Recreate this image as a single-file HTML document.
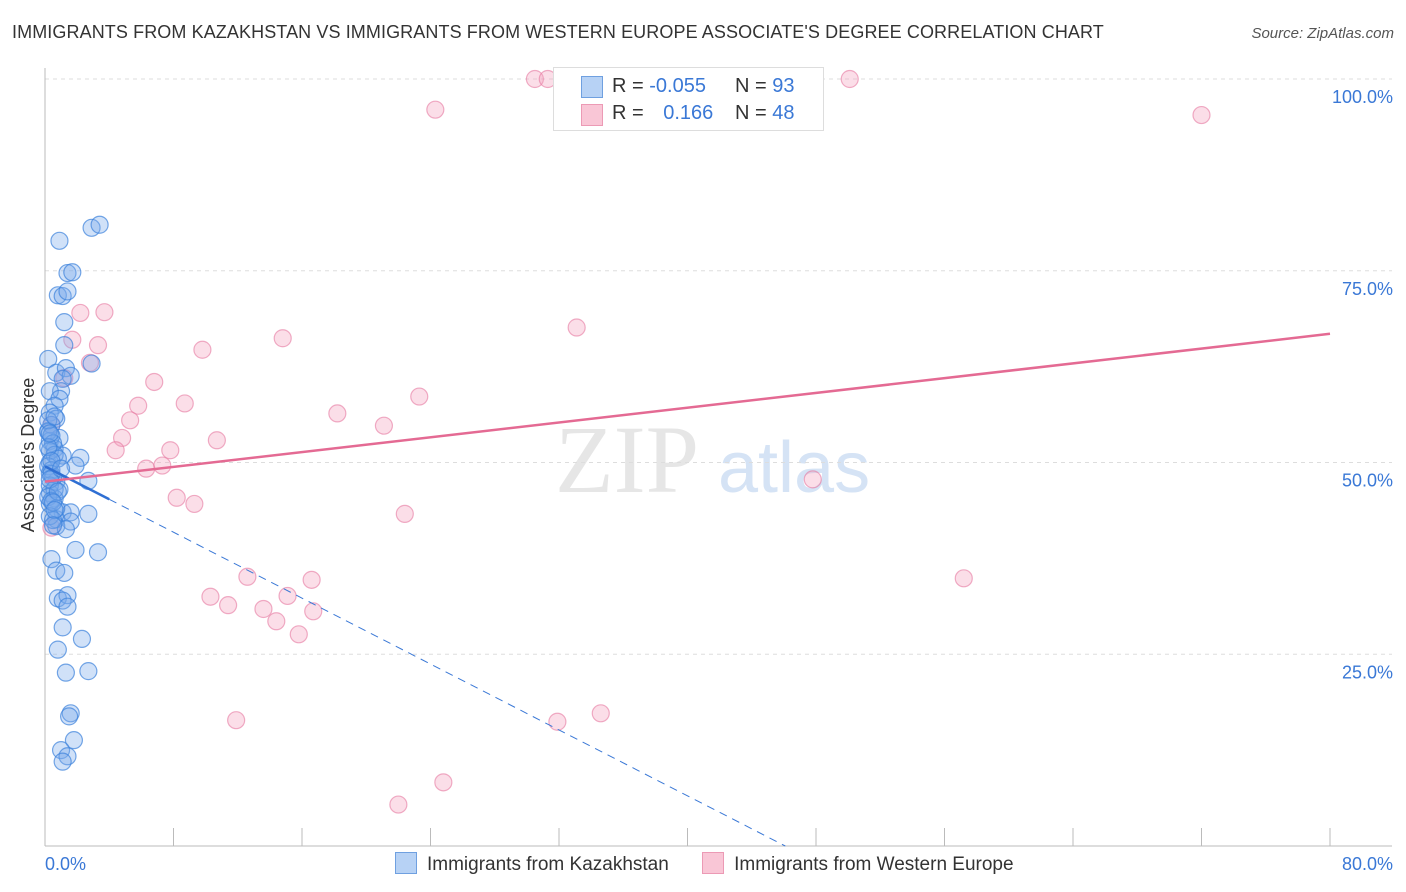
<!DOCTYPE html>
<html><head><meta charset="utf-8">
<style>
body{margin:0;background:#fff;font-family:"Liberation Sans",sans-serif;}
#wrap{position:relative;width:1406px;height:892px;overflow:hidden;}
.title{position:absolute;left:12px;top:22px;font-size:18px;color:#333;letter-spacing:0.1px}
.source{position:absolute;right:12px;top:25px;font-size:15px;color:#555;font-style:italic}
</style></head><body>
<div id="wrap">
<div class="title">IMMIGRANTS FROM KAZAKHSTAN VS IMMIGRANTS FROM WESTERN EUROPE ASSOCIATE'S DEGREE CORRELATION CHART</div>
<div class="source">Source: ZipAtlas.com</div>
<svg id="chart" width="1406" height="892" style="position:absolute;left:0;top:0"></svg>
</div>
<script>
const xTicks=[0,8,16,24,32,40,48,56,64,72,80];
const yTicks=[25,50,75,100];
const blueX=[2.9,3.4,0.9,1.4,1.7,0.8,1.1,1.4,1.2,1.2,2.9,0.2,0.7,1.3,1.6,1.1,1.0,0.3,0.9,0.6,0.3,0.7,0.4,0.2,0.9,0.3,0.6,1.1,2.2,0.3,1.9,2.7,0.3,0.7,0.9,0.3,0.6,0.3,1.1,1.6,2.7,0.7,1.6,0.7,1.3,1.9,3.3,0.4,0.7,1.2,0.8,1.4,1.1,1.4,1.1,2.3,0.8,1.3,2.7,1.6,1.5,1.8,1.0,1.4,1.1,
0.2,0.4,0.5,0.3,0.6,0.8,0.2,0.4,0.5,0.3,0.6,0.2,0.4,0.7,0.3,0.5,0.2,0.6,0.4,0.3,0.8,0.5,0.2,0.4,1.0,0.6,0.3,0.5];
const blueY=[80.6,81.0,78.9,74.7,74.8,71.8,71.7,72.3,68.3,65.3,62.9,63.5,61.7,62.3,61.3,60.9,59.3,59.3,58.3,57.4,56.5,55.7,54.9,54.1,53.2,52.8,51.8,50.9,50.6,50.0,49.6,47.6,48.6,47.5,46.5,46.0,45.3,44.6,43.5,43.5,43.3,42.6,42.3,41.7,41.3,38.6,38.3,37.4,35.9,35.6,32.3,32.7,32.0,31.2,28.5,27.0,25.6,22.6,22.8,17.3,16.9,13.8,12.5,11.7,11.0,
54.0,53.5,52.5,51.5,51.0,50.5,49.5,49.0,48.0,47.0,46.5,45.5,45.0,44.0,43.0,42.5,55.5,56.0,48.5,47.8,46.2,44.8,52.0,50.2,49.2,43.8,53.8,41.8,42.2];
const pinkX=[30.5,31.3,50.1,24.3,72.0,2.2,3.7,1.7,3.3,9.8,14.8,33.1,2.8,1.2,6.8,5.8,8.7,23.3,18.2,5.3,21.1,0.4,4.8,10.7,4.4,7.8,7.3,6.3,47.8,8.2,9.3,22.4,0.4,12.6,16.6,57.2,10.3,11.4,15.1,13.6,16.7,14.4,15.8,11.9,31.9,34.6,24.8,22.0];
const pinkY=[100,100,100,96.0,95.3,69.5,69.6,66.0,65.3,64.7,66.2,67.6,63.0,61.0,60.5,57.4,57.7,58.6,56.4,55.5,54.8,54.9,53.2,52.9,51.6,51.6,49.6,49.2,47.8,45.4,44.6,43.3,41.5,35.1,34.7,34.9,32.5,31.4,32.6,30.9,30.6,29.3,27.6,16.4,16.2,17.3,8.3,5.4];
const blueTrend=[49.5,-1.074];
const pinkTrend=[47.5,0.241];
const X0=45,X1=1330,Y0=846,Y100=79;
const sx=v=>X0+(v/80)*(X1-X0);
const sy=v=>Y0-(v/100)*(Y0-Y100);
const svg=document.getElementById('chart');
const NS='http://www.w3.org/2000/svg';
function mk(t,a){const e=document.createElementNS(NS,t);for(const k in a)e.setAttribute(k,a[k]);svg.appendChild(e);return e;}
// watermark
let wm=mk('text',{x:555,y:492,'font-size':96,'font-family':'Liberation Serif,serif',fill:'#e6e6e6'});


wm.textContent='ZIP';
let wm2=mk('text',{x:718,y:492,'font-size':72,'font-family':'Liberation Sans,sans-serif',fill:'#d5e3f5'});


wm2.textContent='atlas';
// gridlines & y labels
yTicks.forEach(t=>{
 const g=mk('line',{x1:X0,x2:1392,y1:sy(t),y2:sy(t),stroke:'#ddd','stroke-dasharray':'4,4'});
 
 
 const l=mk('text',{x:1393,y:sy(t)+24,'text-anchor':'end','font-size':18,fill:'#3a78d6'});
 
 
 l.textContent=t.toFixed(1)+'%';
});
// axes
let ax=mk('line',{x1:X0,x2:X0,y1:68,y2:Y0,stroke:'#bbb'});


let bx=mk('line',{x1:X0,x2:1392,y1:Y0,y2:Y0,stroke:'#bbb'});


xTicks.forEach(t=>{
 const k=mk('line',{x1:sx(t),x2:sx(t),y1:Y0-18,y2:Y0,stroke:'#bbb'});
 
 
});
let xl0=mk('text',{x:45,y:870,'font-size':18,fill:'#3a78d6'});


xl0.textContent='0.0%';
let xl1=mk('text',{x:1393,y:870,'text-anchor':'end','font-size':18,fill:'#3a78d6'});


xl1.textContent='80.0%';
let yt=mk('text',{x:34,y:455,'font-size':18,fill:'#333','text-anchor':'middle',transform:'rotate(-90 34 455)'});


yt.textContent="Associate's Degree";
// points
pinkX.forEach((v,i)=>{
 const c=mk('circle',{cx:sx(v),cy:sy(pinkY[i]),r:8.5,fill:'rgba(244,160,190,0.35)',stroke:'rgba(230,120,160,0.6)','stroke-width':1.2});
 
 
});
blueX.forEach((v,i)=>{
 const c=mk('circle',{cx:sx(v),cy:sy(blueY[i]),r:8.5,fill:'rgba(120,170,235,0.35)',stroke:'rgba(60,130,220,0.7)','stroke-width':1.2});
 
 
});
// trends
const bz=-blueTrend[0]/blueTrend[1];
let bd=mk('line',{x1:sx(4),y1:sy(blueTrend[0]+blueTrend[1]*4),x2:sx(bz),y2:sy(0),stroke:'#3a78d6','stroke-width':1,'stroke-dasharray':'8,6'});


let bs=mk('line',{x1:sx(0),y1:sy(blueTrend[0]),x2:sx(4),y2:sy(blueTrend[0]+blueTrend[1]*4),stroke:'#2f6fd3','stroke-width':2.5});


let ps=mk('line',{x1:sx(0),y1:sy(pinkTrend[0]),x2:sx(80),y2:sy(pinkTrend[0]+pinkTrend[1]*80),stroke:'#e46a93','stroke-width':2.5});


</script>
<div style="position:absolute;left:553px;top:67px;width:269px;height:62px;border:1px solid #ddd;background:#fff;font-size:20px;color:#333">
 <div style="position:absolute;left:27px;top:8px;width:20px;height:20px;background:#b7d2f5;border:1px solid #6fa0e0"></div>
 <div style="position:absolute;left:58px;top:7px">R = <span style="color:#3a78d6">-0.055</span></div>
 <div style="position:absolute;left:181px;top:7px">N = <span style="color:#3a78d6">93</span></div>
 <div style="position:absolute;left:27px;top:36px;width:20px;height:20px;background:#f9c6d6;border:1px solid #ec9ab5"></div>
 <div style="position:absolute;left:58px;top:34px">R = <span style="color:#3a78d6;margin-left:14px">0.166</span></div>
 <div style="position:absolute;left:181px;top:34px">N = <span style="color:#3a78d6">48</span></div>
</div>
<div style="position:absolute;left:395px;top:852px;font-size:19px;color:#333;white-space:nowrap">
 <span><span style="display:inline-block;width:20px;height:20px;background:#b7d2f5;border:1px solid #6fa0e0;vertical-align:-4px;margin-right:10px"></span>Immigrants from Kazakhstan</span>
 <span style="margin-left:28px"><span style="display:inline-block;width:20px;height:20px;background:#f9c6d6;border:1px solid #ec9ab5;vertical-align:-4px;margin-right:10px"></span>Immigrants from Western Europe</span>
</div>
</body></html>
